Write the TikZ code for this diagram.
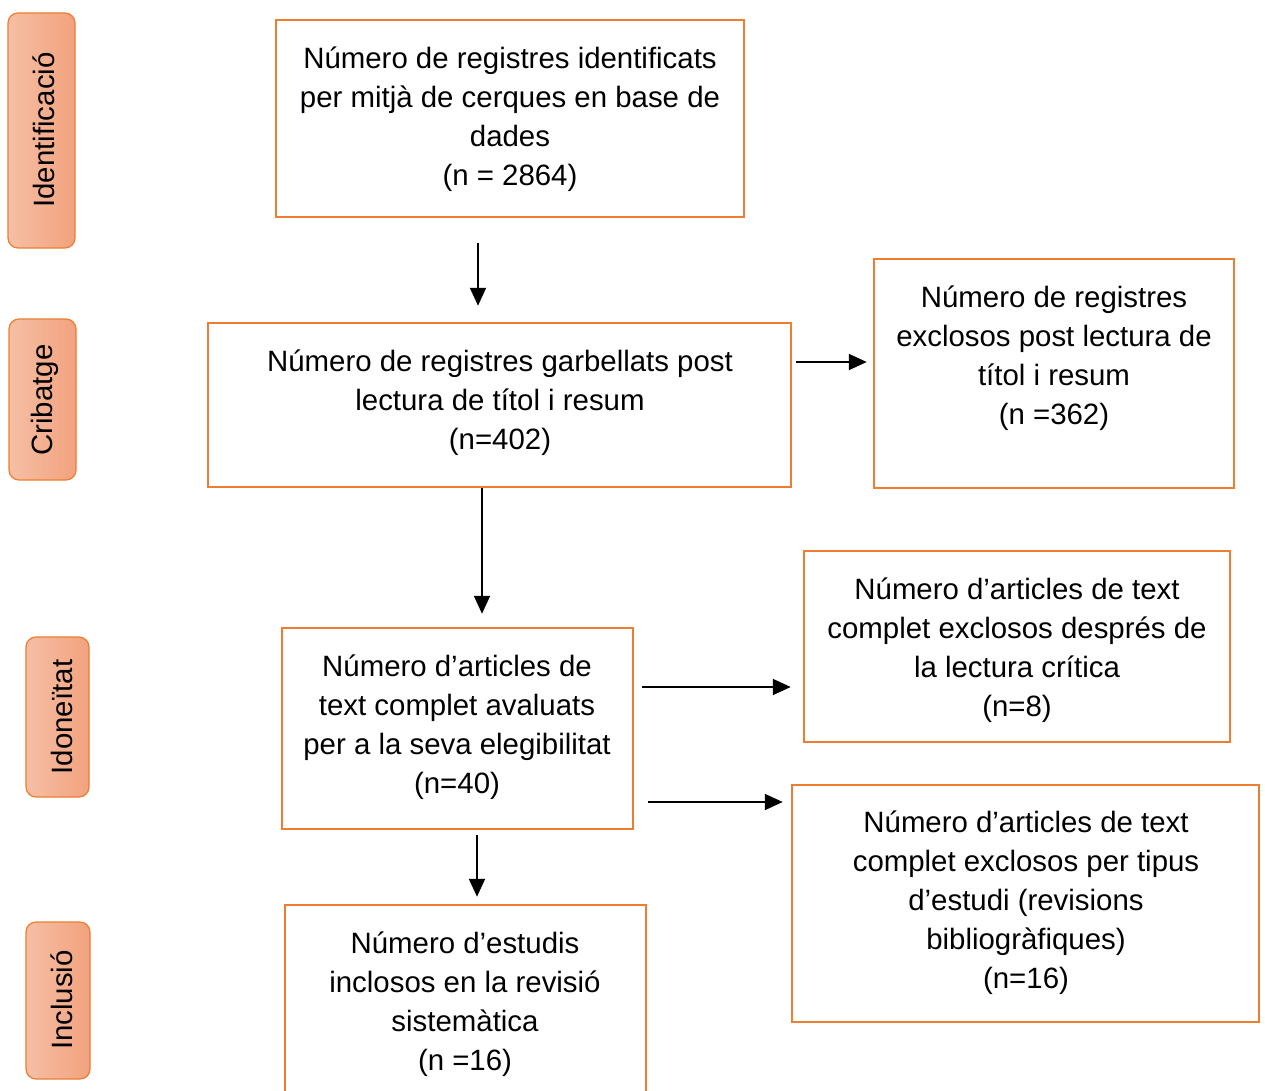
\documentclass[tikz,border=0pt]{standalone}
\usepackage{fontspec}
\setmainfont{Liberation Sans}
\usetikzlibrary{arrows.meta}
\definecolor{orng}{HTML}{ED7D31}
\definecolor{lblL}{HTML}{F5BFA5}
\definecolor{lblR}{HTML}{F2A27E}
\begin{document}
\begin{tikzpicture}[x=1pt,y=-1pt,
  box/.style={draw=orng,line width=2.5pt,inner sep=0pt},
  txt/.style={align=center,font=\fontsize{29.4}{39}\selectfont,inner sep=0pt},
  phase/.style={draw=orng,line width=1.2pt,rounded corners=10pt,left color=lblL,right color=lblR,inner sep=0pt},
  arr/.style={-{Triangle[length=18pt,width=16pt]},line width=2pt}]
\useasboundingbox (0,0) rectangle (1265,1091);
\clip (0,0) rectangle (1265,1091);
% phase labels
\node[phase,minimum width=67pt,minimum height=235pt] (p1) at (41.5,130.5) {};
\node[txt,rotate=90] (pt1) at (44,130) {Identificació};
\node[phase,minimum width=67pt,minimum height=161pt] (p2) at (42.5,399.5) {};
\node[txt,rotate=90] (pt2) at (45,400) {Cribatge};
\node[phase,minimum width=63pt,minimum height=160pt] (p3) at (57.5,717) {};
\node[txt,rotate=90] (pt3) at (62,717) {Idoneïtat};
\node[phase,minimum width=64pt,minimum height=157pt] (p4) at (58,1000.5) {};
\node[txt,rotate=90] (pt4) at (62,1000) {Inclusió};
% boxes
\node[box,minimum width=468pt,minimum height=197pt] (b1) at (510,118.5) {};
\node[txt] (t1) at (510,119.5) {Número de registres identificats\\per mitjà de cerques en base de\\dades\\(n = 2864)};
\node[box,minimum width=583pt,minimum height=164pt] (b2) at (499.5,405) {};
\node[txt] (t2) at (500,403) {Número de registres garbellats post\\lectura de títol i resum\\(n=402)};
\node[box,minimum width=360pt,minimum height=229pt] (b3) at (1054,373.5) {};
\node[txt] (t3) at (1054,358.5) {Número de registres\\exclosos post lectura de\\títol i resum\\(n =362)};
\node[box,minimum width=351pt,minimum height=201pt] (b4) at (457.5,728.5) {};
\node[txt] (t4) at (457,727.5) {Número d’articles de\\text complet avaluats\\per a la seva elegibilitat\\(n=40)};
\node[box,minimum width=426pt,minimum height=191pt] (b5) at (1017,646.5) {};
\node[txt] (t5) at (1017,650.5) {Número d’articles de text\\complet exclosos després de\\la lectura crítica\\(n=8)};
\node[box,minimum width=467pt,minimum height=237pt] (b6) at (1025.5,903.5) {};
\node[txt] (t6) at (1026,903) {Número d’articles de text\\complet exclosos per tipus\\d’estudi (revisions\\bibliogràfiques)\\(n=16)};
\node[box,minimum width=361pt,minimum height=215pt] (b7) at (465.5,1012.5) {};
\node[txt] (t7) at (465,1004) {Número d’estudis\\inclosos en la revisió\\sistemàtica\\(n =16)};
% arrows
\draw[arr,shorten <=25pt,shorten >=16pt] ([xshift=-32pt]b1.south) -- ([xshift=-21.5pt]b2.north);
\draw[arr,shorten <=4pt,shorten >=6pt] ([yshift=43pt]b2.east) -- ([yshift=11.5pt]b3.west);
\draw[arr,shorten >=13pt] ([xshift=-17.5pt]b2.south) -- ([xshift=24.5pt]b4.north);
\draw[arr,shorten <=8pt,shorten >=12pt] ([yshift=41.5pt]b4.east) -- ([yshift=-40.5pt]b5.west);
\draw[arr,shorten <=14pt,shorten >=8pt] ([yshift=-73.5pt]b4.east) -- ([yshift=101.5pt]b6.west);
\draw[arr,shorten <=5pt,shorten >=7pt] ([xshift=19.5pt]b4.south) -- ([xshift=11.5pt]b7.north);
\end{tikzpicture}
\end{document}
